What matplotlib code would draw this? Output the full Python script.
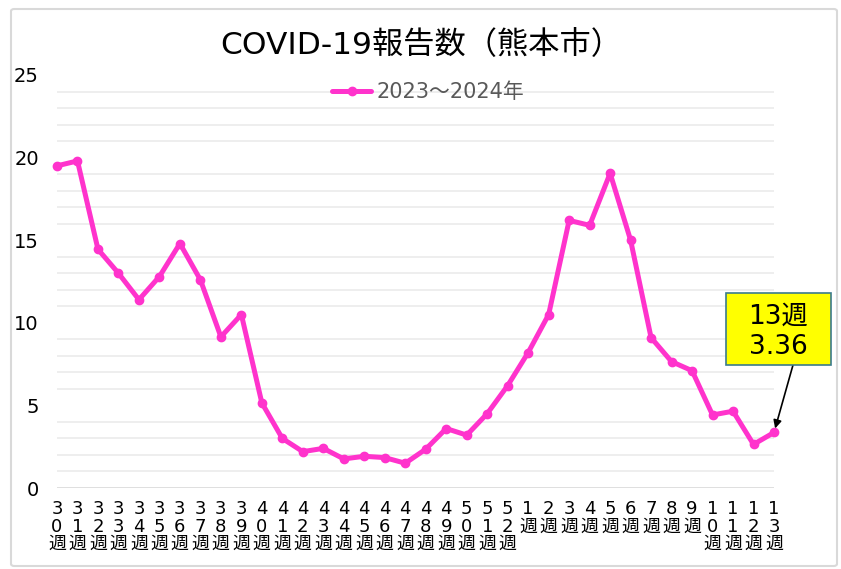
import matplotlib
matplotlib.use("Agg")
import matplotlib.pyplot as plt
from matplotlib.patches import FancyBboxPatch, Rectangle

plt.rcParams['font.family'] = ['DejaVu Sans', 'Noto Sans CJK JP']

weeks = ['30', '31', '32', '33', '34', '35', '36', '37', '38', '39', '40', '41',
         '42', '43', '44', '45', '46', '47', '48', '49', '50', '51', '52',
         '1', '2', '3', '4', '5', '6', '7', '8', '9', '10', '11', '12', '13']
values = [19.5, 19.8, 14.45, 13.0, 11.4, 12.8, 14.8, 12.6, 9.15, 10.5, 5.15, 3.0,
          2.2, 2.4, 1.76, 1.92, 1.84, 1.5, 2.35, 3.6, 3.2, 4.5, 6.2,
          8.2, 10.5, 16.2, 15.9, 19.05, 15.0, 9.1, 7.65, 7.1, 4.42, 4.65, 2.64, 3.36]
series_label = '2023～2024年'
title = 'COVID-19報告数（熊本市）'
yticks = [0, 5, 10, 15, 20, 25]
note = '13週\n3.36'

tick_labels = ['\n'.join(list(w)) + '\n週' for w in weeks]

W, H = 841, 569
fig = plt.figure(figsize=(W / 100, H / 100), dpi=100)
fig.patch.set_facecolor('white')

def fx(px):
    return px / W

def fy(py):
    return 1 - py / H

frame = FancyBboxPatch((fx(11), fy(566)), (837 - 11) / W, (566 - 9) / H,
                       boxstyle='round,pad=0,rounding_size=0.004',
                       transform=fig.transFigure, facecolor='none',
                       edgecolor='#D9D9D9', linewidth=1.5, zorder=0)
fig.patches.append(frame)

ax = fig.add_axes([fx(57), fy(488), (774 - 57) / W, (488 - 75) / H])
ax.set_facecolor('none')
x = list(range(len(weeks)))

for g in range(1, 25):
    if g % 5 != 0:
        ax.axhline(g, color='#EBEBEB', linewidth=1.2, zorder=1)
ax.axhline(0, color='#D9D9D9', linewidth=1.2, zorder=1)

ax.plot(x, values, color='#FF33CC', linewidth=3.6, marker='o', markersize=6,
        solid_capstyle='round', label=series_label, zorder=3, clip_on=False)

ax.set_xlim(0, len(weeks) - 1)
ax.set_ylim(0, 25)
ax.set_yticks(yticks)
ax.set_yticklabels([str(t) for t in yticks], fontsize=14, color='#000000')
ax.set_xticks(x)
ax.set_xticklabels(tick_labels, fontsize=13, linespacing=0.95, va='top')
ax.tick_params(axis='both', length=0)
ax.tick_params(axis='y', pad=13)
ax.tick_params(axis='x', pad=9)
for s in ax.spines.values():
    s.set_visible(False)

fig.text(fx(421), fy(45), title, fontsize=22.5, ha='center', va='center')

leg = ax.legend(loc='center', bbox_to_anchor=(fx(428), fy(92)),
                bbox_transform=fig.transFigure, frameon=False, fontsize=15,
                handlelength=1.9, handletextpad=0.25, borderpad=0)
for t in leg.get_texts():
    t.set_color('#595959')

box = Rectangle((fx(726), fy(365)), (831 - 726) / W, (365 - 293) / H,
                transform=fig.transFigure, facecolor='#FFFF00',
                edgecolor='#3B7C8C', linewidth=1.2, zorder=5)
fig.patches.append(box)
fig.text(fx(778.5), fy(332), note, fontsize=19, ha='center', va='center',
         linespacing=1.2, zorder=6)

ax.annotate('', xy=(x[-1], values[-1]), xytext=(fx(793), fy(365)),
            textcoords='figure fraction',
            arrowprops=dict(arrowstyle='-|>', color='black', linewidth=1.2,
                            shrinkA=0, shrinkB=3, mutation_scale=12),
            zorder=5, annotation_clip=False)

fig.savefig('out.png', dpi=100, facecolor='white')
